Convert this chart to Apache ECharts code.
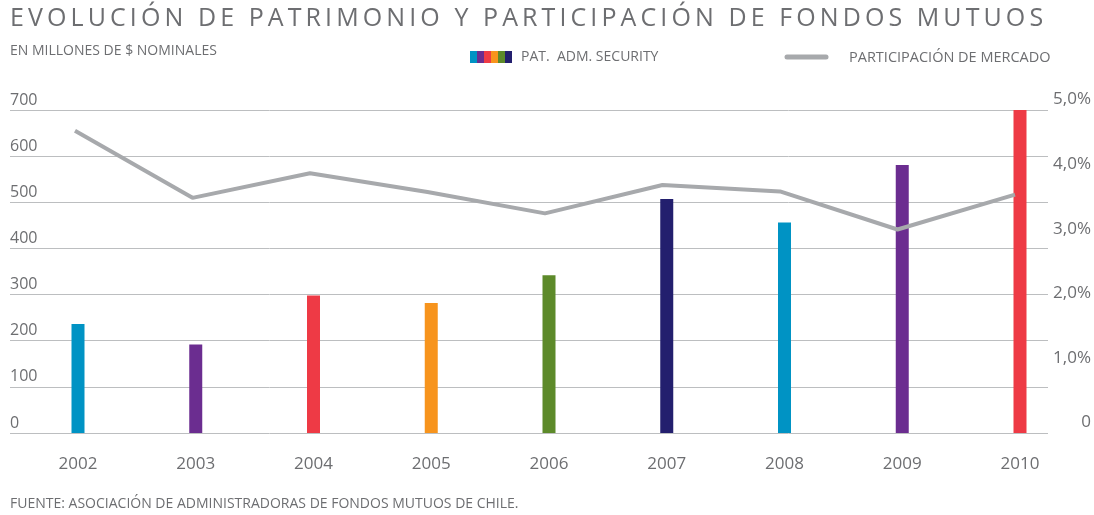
<!DOCTYPE html>
<html>
<head>
<meta charset="utf-8">
<script src="https://cdn.jsdelivr.net/npm/echarts@6/dist/echarts.min.js"></script>
<style>
  html, body { margin: 0; padding: 0; background: #ffffff; }
  #wrap { position: relative; width: 1094px; height: 515px; }
  #chart { position: absolute; left: 0; top: 0; width: 1094px; height: 515px; }
  #title { position: absolute; left: 10px; top: -1px; font-family: "Open Sans", sans-serif; font-size: 25px; color: #6d6e71; white-space: nowrap; font-weight: 400; }
</style>
</head>
<body>
<div id="wrap">
  <div id="chart"></div>
  <div id="title">EVOLUCIÓN DE PATRIMONIO Y PARTICIPACIÓN DE FONDOS MUTUOS</div>
</div>
<script>
// ---- Data ----
const years = ['2002', '2003', '2004', '2005', '2006', '2007', '2008', '2009', '2010'];
const patrimonio = [236, 192, 298, 282, 342, 507, 456, 581, 700];          // millones de $ nominales
const participacion = [4.68, 3.64, 4.02, 3.73, 3.40, 3.84, 3.74, 3.15, 3.69]; // %
const barColors = ['#0093c4', '#6b2d90', '#ee3a45', '#f7941d', '#5d8a2a', '#231f6e', '#0093c4', '#6b2d90', '#ee3a45'];
const legendColors = ['#0093c4', '#6b2d90', '#ee3a45', '#f7941d', '#5d8a2a', '#231f6e'];
const leftTicks = { min: 0, max: 700, interval: 100 };
const rightTicks = { min: 0, max: 5, interval: 1 };

// ---- Title letter spacing to fit width ----
(function () {
  const el = document.getElementById('title');
  const targetW = 1033;
  const n = el.textContent.length;
  const natural = el.getBoundingClientRect().width;
  const ls = (targetW - natural) / (n - 1);
  el.style.letterSpacing = ls.toFixed(2) + 'px';
})();

const FONT = '"Open Sans", sans-serif';
const TXT = '#6d6e71';
const GRIDC = '#bcbec0';
const LINEC = '#a7a9ac';

const chart = echarts.init(document.getElementById('chart'), null, { renderer: 'canvas' });

const legendGraphics = legendColors.map((c, i) => ({
  type: 'rect', shape: { x: 470 + i * 7, y: 51, width: 7, height: 12 }, style: { fill: c }
}));

const option = {
  backgroundColor: '#ffffff',
  animation: false,
  textStyle: { fontFamily: FONT },
  grid: [
    { left: 10, right: 46, top: 110, bottom: 82 },   // gridlines + value axes
    { left: 78, right: 74, top: 110, bottom: 82 },   // bars
    { left: 75, right: 79, top: 110, bottom: 82 }    // line
  ],
  xAxis: [
    { gridIndex: 0, type: 'category', data: years, show: false },
    {
      gridIndex: 1, type: 'category', data: years, boundaryGap: false,
      axisLine: { show: false }, axisTick: { show: false },
      axisLabel: { color: TXT, fontSize: 17, margin: 23, fontFamily: FONT }
    },
    { gridIndex: 2, type: 'category', data: years, boundaryGap: false, show: false }
  ],
  yAxis: [
    {
      gridIndex: 0, type: 'value', min: leftTicks.min, max: leftTicks.max, interval: leftTicks.interval,
      axisLine: { show: false }, axisTick: { show: false },
      splitLine: { show: true, lineStyle: { color: GRIDC, width: 1 } },
      axisLabel: { inside: true, margin: 0, align: 'left', verticalAlign: 'bottom', color: TXT, fontSize: 16, fontFamily: FONT, padding: [0, 0, 2, 0] }
    },
    {
      gridIndex: 0, type: 'value', position: 'right', min: rightTicks.min, max: rightTicks.max, interval: rightTicks.interval,
      axisLine: { show: false }, axisTick: { show: false }, splitLine: { show: false },
      axisLabel: {
        margin: 43, align: 'right', verticalAlign: 'bottom', color: TXT, fontSize: 17, fontFamily: FONT, padding: [0, 0, 2, 0],
        formatter: v => v === 0 ? '0' : v.toFixed(1).replace('.', ',') + '%'
      }
    },
    { gridIndex: 1, type: 'value', min: leftTicks.min, max: leftTicks.max, show: false, splitLine: { show: false } },
    { gridIndex: 2, type: 'value', min: rightTicks.min, max: rightTicks.max, show: false, splitLine: { show: false } }
  ],
  series: [
    {
      name: 'PAT. ADM. SECURITY', type: 'bar', xAxisIndex: 1, yAxisIndex: 2,
      barWidth: 13,
      data: patrimonio.map((v, i) => ({ value: v, itemStyle: { color: barColors[i] } }))
    },
    {
      name: 'PARTICIPACIÓN DE MERCADO', type: 'line', xAxisIndex: 2, yAxisIndex: 3,
      data: participacion, symbol: 'none',
      lineStyle: { color: LINEC, width: 4 }, z: 5
    }
  ],
  graphic: [
    {
      type: 'text', left: 10, top: 44,
      style: { text: 'EN MILLONES DE $ NOMINALES', fill: TXT, font: '14px ' + FONT }
    },
    ...legendGraphics,
    {
      type: 'text', left: 521, top: 50,
      style: { text: 'PAT.  ADM. SECURITY', fill: TXT, font: '14px ' + FONT }
    },
    {
      type: 'line', shape: { x1: 787, y1: 57, x2: 826, y2: 57 },
      style: { stroke: LINEC, lineWidth: 5, lineCap: 'round' }
    },
    {
      type: 'text', left: 849, top: 50,
      style: { text: 'PARTICIPACIÓN DE MERCADO', fill: TXT, font: '14.5px ' + FONT }
    },
    {
      type: 'text', left: 10, top: 497,
      style: { text: 'FUENTE: ASOCIACIÓN DE ADMINISTRADORAS DE FONDOS MUTUOS DE CHILE.', fill: TXT, font: '14px ' + FONT }
    }
  ]
};
chart.setOption(option);
</script>
</body>
</html>
